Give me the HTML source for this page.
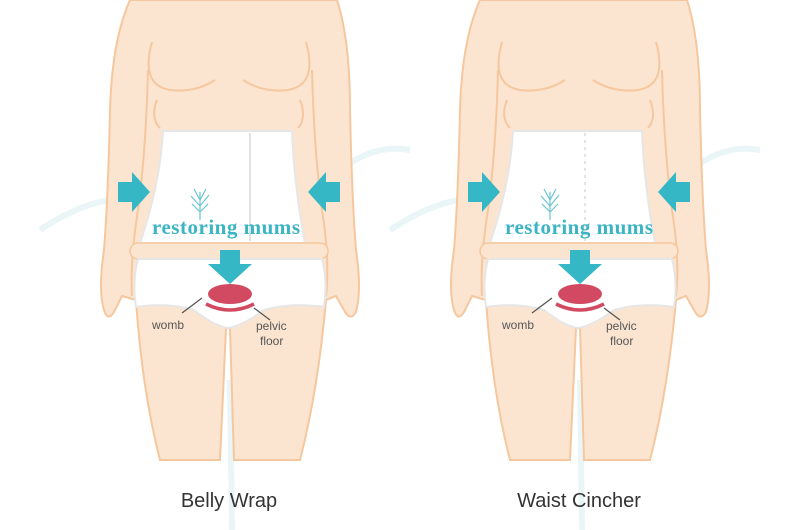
<!DOCTYPE html>
<html><head><meta charset="utf-8"><style>
html,body{margin:0;padding:0;background:#fff;}
svg{display:block;}
</style></head><body>
<svg width="800" height="530" viewBox="0 0 800 530" xmlns="http://www.w3.org/2000/svg">
<defs>
<g id="fig">
  <path d="M40 230 Q100 190 150 200 M310 200 Q360 140 410 150 M230 380 L232 530" stroke="#eaf5f7" stroke-width="6" fill="none"/>
  <!-- body -->
  <path d="M130 0 L337 0 Q350 40 350 110 Q352 200 356 250 Q362 290 356 312 Q350 322 344 310 L336 296 L326 300 Q318 390 300 460 L234 460 L230 328 L226 328 L220 460 L160 460 Q142 390 136 300 L122 296 L114 312 Q108 322 104 310 Q98 290 104 250 Q108 200 110 110 Q112 40 130 0 Z" fill="#fce5d0" stroke="#f5c79e" stroke-width="2"/>
  <path d="M148 70 Q146 150 138 210 Q130 260 132 296" stroke="#f5c79e" stroke-width="2" fill="none"/>
  <path d="M312 70 Q314 150 322 210 Q330 260 326 296" stroke="#f5c79e" stroke-width="2" fill="none"/>
  <!-- breasts -->
  <path d="M152 42 Q140 85 170 90 Q195 93 215 80" stroke="#f5c79e" stroke-width="2" fill="none"/>
  <path d="M306 42 Q318 85 288 90 Q263 93 243 80" stroke="#f5c79e" stroke-width="2" fill="none"/>
  <path d="M157 100 Q150 118 160 128 M300 100 Q307 118 298 128" stroke="#f5c79e" stroke-width="2" fill="none"/>
  <!-- wrap -->
  <path d="M163 131 L292 131 Q294 185 305 243 L140 243 Q160 185 163 131 Z" fill="#fff" stroke="#e6e6e6" stroke-width="2"/>
  <!-- belt -->
  <rect x="130" y="243" width="198" height="16" rx="8" fill="#fce5d0" stroke="#f5c79e" stroke-width="1.5"/>
  <!-- underwear -->
  <path d="M138 259 L322 259 Q328 282 324 307 Q292 302 264 310 Q242 326 228 328 Q214 326 194 310 Q166 302 136 307 Q132 282 138 259 Z" fill="#fff" stroke="#e6e6e6" stroke-width="2"/>
  <!-- arrows -->
  <polygon points="118,182 132,182 132,172 150,192 132,212 132,202 118,202" fill="#35b7c6"/>
  <polygon points="340,182 326,182 326,172 308,192 326,212 326,202 340,202" fill="#35b7c6"/>
  <polygon points="220,250 240,250 240,264 252,264 230,284 208,264 220,264" fill="#35b7c6"/>
  <g stroke="#6cc6cf" stroke-width="1.2" fill="none">
    <path d="M200 220 L200 192 M200 206 L191 196 M200 206 L209 195 M200 200 L194 189 M200 200 L206 189 M200 212 L192 204 M200 212 L208 204"/>
  </g>
  <ellipse cx="230" cy="294" rx="22" ry="10" fill="#d24a61"/>
  <path d="M206 304 Q230 316 254 304" stroke="#d24a61" stroke-width="3.5" fill="none"/>
  <path d="M202 298 L182 313 M254 308 L270 320" stroke="#555" stroke-width="1.3"/>
</g>
</defs>
<use href="#fig"/>
<use href="#fig" transform="translate(350,0)"/>
<line x1="250" y1="133" x2="250" y2="241" stroke="#e2e2e2" stroke-width="2"/>
<path d="M585 133 L585 241" stroke="#dcdcdc" stroke-width="1.5" stroke-dasharray="3 4"/>
<g font-family="Liberation Serif, serif" font-weight="bold" fill="#3bb4c4" font-size="21">
  <text x="152" y="234" textLength="148">restoring mums</text>
  <text x="505" y="234" textLength="148">restoring mums</text>
</g>
<g font-family="Liberation Sans, sans-serif" fill="#555" font-size="12">
  <text x="152" y="329">womb</text>
  <text x="256" y="330">pelvic</text><text x="260" y="345">floor</text>
  <text x="502" y="329">womb</text>
  <text x="606" y="330">pelvic</text><text x="610" y="345">floor</text>
</g>
<g font-family="Liberation Sans, sans-serif" fill="#333" font-size="20" text-anchor="middle">
  <text x="229" y="507">Belly Wrap</text>
  <text x="579" y="507">Waist Cincher</text>
</g>
</svg>
</body></html>
